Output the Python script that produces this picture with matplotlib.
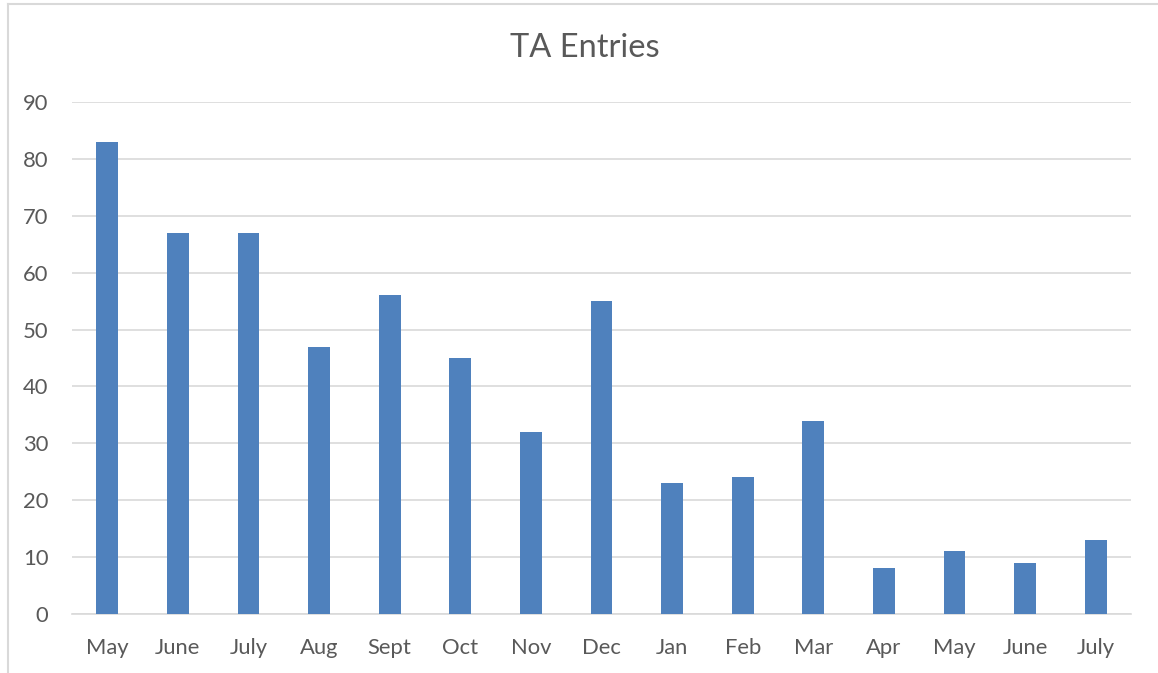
import matplotlib.pyplot as plt
from matplotlib.lines import Line2D

months = ['May', 'June', 'July', 'Aug', 'Sept', 'Oct', 'Nov', 'Dec',
          'Jan', 'Feb', 'Mar', 'Apr', 'May', 'June', 'July']
entries = [83, 67, 67, 47, 56, 45, 32, 55, 23, 24, 34, 8, 11, 9, 13]
y_ticks = [0, 10, 20, 30, 40, 50, 60, 70, 80, 90]

plt.rcParams['font.family'] = ['Lato', 'DejaVu Sans']
text_color = '#595959'
grid_color = '#D9D9D9'

W, H = 1158, 673
fig = plt.figure(figsize=(W / 100, H / 100), dpi=100)
ax = fig.add_axes([72 / W, (H - 614) / H, (1131 - 72) / W, (614 - 102) / H])

x = list(range(len(months)))
ax.bar(x, entries, width=0.31, color='#4F81BD', zorder=3)

ax.set_xlim(-0.5, len(months) - 0.5)
ax.set_ylim(0, 90)
ax.set_yticks(y_ticks)
ax.set_xticks(x)
ax.set_xticklabels(months)
ax.grid(axis='y', color=grid_color, linewidth=1.2, zorder=0)
ax.tick_params(length=0, labelsize=15.8, colors=text_color)
ax.tick_params(axis='y', pad=17)
ax.tick_params(axis='x', pad=17)
for side in ['top', 'right', 'left']:
    ax.spines[side].set_visible(False)
ax.spines['bottom'].set_color(grid_color)
ax.spines['bottom'].set_linewidth(1.2)

fig.text(585 / W, 1 - 48 / H, 'TA Entries', ha='center', va='center',
         fontsize=23.5, color=text_color)

# chart frame (left and top edges visible)
fig.add_artist(Line2D([8 / W, 8 / W], [0, 1 - 4 / H], transform=fig.transFigure,
                      color=grid_color, linewidth=1.5))
fig.add_artist(Line2D([8 / W, 1], [1 - 4 / H, 1 - 4 / H], transform=fig.transFigure,
                      color=grid_color, linewidth=1.5))

fig.savefig('out.png', dpi=100)
